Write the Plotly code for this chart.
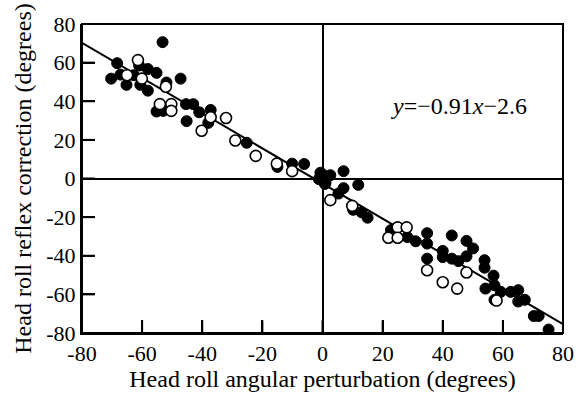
import plotly.graph_objects as go

# Filled circles (x: perturbation, y: correction)
filled_x = [-53.2, -68.3, -70.3, -67.2, -65.2, -62.8, -60.6, -58.1, -58.1, -55.2, -51.9, -47.2,
            -55.2, -53.0, -45.4, -43.0, -41.0, -45.2, -37.2, -38.0, -25.2, -10.1, -6.1, -15.0,
            -0.1, 2.6, -1.2, 0.8, -0.7, 7.0, 1.0, 11.9, 7.0, 5.3, 10.2, 13.0, 15.0,
            22.8, 28.2, 31.0, 34.8, 34.8, 34.8, 40.0, 40.0, 43.0, 43.0, 45.2, 47.9, 50.1, 47.9,
            53.9, 53.9, 56.9, 54.2, 57.2, 59.3, 57.2, 62.6, 65.1, 65.1, 67.3, 70.3, 71.9, 75.2, -61.0]
filled_y = [70.6, 59.7, 51.7, 53.8, 48.5, 53.5, 48.5, 56.7, 45.5, 54.7, 49.7, 51.7,
            34.7, 35.0, 38.5, 38.5, 34.3, 29.7, 35.5, 28.8, 18.5, 7.7, 7.5, 6.0,
            2.2, 1.7, -0.3, -2.8, 3.0, 3.8, -2.3, -3.3, -5.0, -7.8, -16.2, -17.5, -20.3,
            -26.7, -30.3, -32.5, -28.3, -33.7, -41.5, -37.5, -40.7, -29.5, -41.5, -42.8, -32.3, -36.2, -40.3,
            -42.3, -46.2, -50.3, -57.0, -55.3, -58.7, -62.8, -58.7, -57.8, -63.7, -62.8, -71.2, -71.2, -78.2, 58.5]

# Open circles
open_x = [-61.4, -65.0, -60.1, -52.1, -54.1, -50.3, -50.3, -40.2, -37.2, -32.1, -29.0, -22.2,
          -15.2, -10.1, 2.6, 9.9, 25.0, 28.0, 21.9, 25.0, 34.8, 40.0, 44.8, 47.9, 57.9]
open_y = [61.3, 53.5, 51.7, 47.5, 38.5, 38.5, 35.0, 24.7, 31.7, 31.3, 19.7, 11.7,
          7.7, 3.8, -11.2, -14.2, -25.3, -25.3, -30.7, -30.7, -47.5, -53.7, -57.0, -48.7, -63.2]

# Regression: y = slope * x + intercept
slope = -0.91
intercept = -2.6
line_x = [-80, 80]
line_y = [slope * v + intercept for v in line_x]

axis_ticks = [-80, -60, -40, -20, 0, 20, 40, 60, 80]
axis_min, axis_max = -80, 80

FONT = "Liberation Serif, Times New Roman, serif"
W, H = 586, 399
M = dict(l=82, r=15, t=16, b=63)
TICK_PX = 13
x_per_px = (axis_max - axis_min) / (W - M["l"] - M["r"])
y_per_px = (axis_max - axis_min) / (H - M["t"] - M["b"])

# inward tick marks built from the tick list (left and bottom axes)
tx, ty = [], []
for t in axis_ticks[1:-1]:
    tx += [t, t, None]
    ty += [axis_min, axis_min + TICK_PX * y_per_px, None]
    tx += [axis_min, axis_min + TICK_PX * x_per_px, None]
    ty += [t, t, None]

fig = go.Figure()
fig.add_trace(go.Scatter(x=tx, y=ty, mode="lines", line=dict(color="black", width=2),
                         hoverinfo="skip", cliponaxis=False))
fig.add_trace(go.Scatter(x=line_x, y=line_y, mode="lines",
                         line=dict(color="black", width=2), hoverinfo="skip"))
fig.add_trace(go.Scatter(x=filled_x, y=filled_y, mode="markers",
                         marker=dict(symbol="circle", size=11, color="black",
                                     line=dict(color="black", width=1))))
fig.add_trace(go.Scatter(x=open_x, y=open_y, mode="markers",
                         marker=dict(symbol="circle", size=11, color="white",
                                     line=dict(color="black", width=1.6))))

axis_common = dict(
    range=[axis_min, axis_max], tickvals=axis_ticks, ticktext=[str(t) for t in axis_ticks],
    ticks="inside", ticklen=TICK_PX, tickwidth=2, tickcolor="black",
    showline=True, linecolor="black", linewidth=2,
    showgrid=False, zeroline=True, zerolinecolor="black", zerolinewidth=1.5,
    tickfont=dict(family=FONT, size=22, color="black"),
)

fig.update_layout(
    width=W, height=H,
    margin=M,
    paper_bgcolor="white", plot_bgcolor="white",
    showlegend=False,
    shapes=[dict(type="rect", xref="paper", yref="paper", x0=0, x1=1, y0=0, y1=1,
                 line=dict(color="black", width=2), fillcolor="rgba(0,0,0,0)", layer="above")],
    xaxis=dict(**axis_common,
               title=dict(text="Head roll angular perturbation (degrees)",
                          font=dict(family=FONT, size=24, color="black"), standoff=4)),
    yaxis=dict(**axis_common,
               title=dict(text="Head roll reflex correction (degrees)",
                          font=dict(family=FONT, size=24, color="black"), standoff=8)),
    annotations=[dict(x=45.5, y=37.5, xref="x", yref="y",
                      text="<i>y</i>=\u22120.91<i>x</i>\u22122.6", showarrow=False,
                      font=dict(family=FONT, size=24, color="black"))],
)

fig.write_html("out.html")
